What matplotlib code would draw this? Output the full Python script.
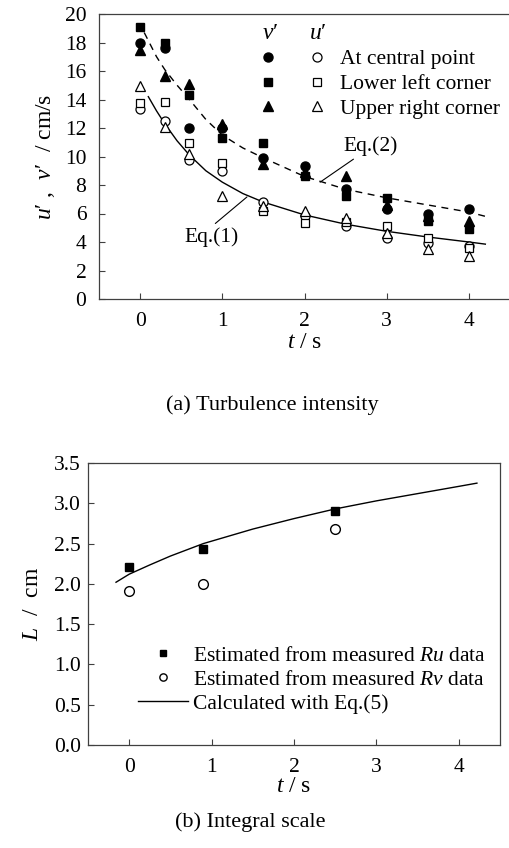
import matplotlib.pyplot as plt
from matplotlib.legend_handler import HandlerTuple

plt.rcParams['font.family'] = ['Liberation Serif', 'DejaVu Serif']
plt.rcParams['mathtext.fontset'] = 'custom'
plt.rcParams['mathtext.rm'] = 'Liberation Serif'
plt.rcParams['mathtext.it'] = 'Liberation Serif:italic'

# ---- (a) turbulence intensity data ----
t = [0, 0.3, 0.6, 1.0, 1.5, 2.0, 2.5, 3.0, 3.5, 4.0]
# v' (filled markers)
v_center = [18.0, 17.6, 12.0, 12.0, 9.9, 9.3, 7.7, 6.3, 6.0, 6.3]
v_lower = [19.1, 18.0, 14.3, 11.3, 10.95, 8.6, 7.2, 7.1, 5.5, 4.9]
v_upper = [17.5, 15.65, 15.1, 12.3, 9.5, 8.9, 8.6, 6.6, 5.8, 5.45]
# u' (open markers)
u_center = [13.3, 12.5, 9.75, 9.0, 6.8, 5.85, 5.1, 4.3, 3.95, 3.7]
u_lower = [13.75, 13.85, 10.95, 9.55, 6.2, 5.3, 5.4, 5.15, 4.3, 3.6]
u_upper = [14.95, 12.1, 10.2, 7.25, 6.5, 6.2, 5.7, 4.6, 3.5, 3.0]

# Eq.(1) and Eq.(2) curves
t_eq1 = [0.1, 0.2, 0.3, 0.45, 0.6, 0.8, 1.0, 1.25, 1.5, 2.0, 2.5, 3.0, 3.5, 4.0, 4.2]
u_eq1 = [14.2, 13.2, 12.3, 11.1, 10.1, 9.0, 8.2, 7.4, 6.8, 5.9, 5.25, 4.75, 4.35, 4.0, 3.85]
t_eq2 = [0.05, 0.2, 0.3, 0.45, 0.6, 0.8, 1.0, 1.25, 1.5, 2.0, 2.5, 3.0, 3.5, 4.0, 4.2]
v_eq2 = [18.7, 17.0, 16.1, 15.0, 14.0, 12.6, 11.5, 10.6, 9.9, 8.6, 7.7, 7.1, 6.6, 6.1, 5.8]

labels_a = ["At central point", "Lower left corner", "Upper right corner"]

# ---- (b) integral scale data ----
t_b = [0, 0.9, 2.5]
L_ru = [2.21, 2.43, 2.9]
L_rv = [1.91, 2.0, 2.68]
t_eq5 = [-0.16, 0.0, 0.25, 0.5, 0.9, 1.5, 2.0, 2.5, 3.0, 3.5, 4.0, 4.22]
L_eq5 = [2.02, 2.12, 2.235, 2.345, 2.5, 2.68, 2.81, 2.93, 3.03, 3.12, 3.21, 3.25]

fs = 15.5
W, H = 509, 848
fig = plt.figure(figsize=(W / 100, H / 100), dpi=100)
ax1 = fig.add_axes([99 / W, 1 - 299 / H, 411 / W, 285 / H])
ax2 = fig.add_axes([88 / W, 1 - 745 / H, 412 / W, 282 / H])

spine_c = '#404040'
for ax in (ax1, ax2):
    for s in ax.spines.values():
        s.set_color(spine_c)
        s.set_linewidth(0.9)
    ax.tick_params(direction='in', length=4, width=0.8, color=spine_c,
                   labelsize=fs, top=False, right=False)
    ax.set_xlim(-0.5, 4.5)
    ax.set_xticks([0, 1, 2, 3, 4])

# top panel
ms = 6.5
ax1.plot(t_eq1, u_eq1, '-', color='black', lw=1.0)
ax1.plot(t_eq2, v_eq2, color='black', lw=1.0, linestyle=(0, (5, 4)))
kw_f = dict(linestyle='none', color='black')
kw_o = dict(linestyle='none', color='black', markerfacecolor='white', markeredgewidth=0.9)
h_vc, = ax1.plot(t, v_center, 'o', ms=ms, **kw_f)
h_vl, = ax1.plot(t, v_lower, 's', ms=ms - 0.5, **kw_f)
h_vu, = ax1.plot(t, v_upper, '^', ms=ms, **kw_f)
h_uc, = ax1.plot(t, u_center, 'o', ms=ms, **kw_o)
h_ul, = ax1.plot(t, u_lower, 's', ms=ms - 0.5, **kw_o)
h_uu, = ax1.plot(t, u_upper, '^', ms=ms, **kw_o)

ax1.set_ylim(0, 20)
ax1.set_yticks(range(0, 21, 2))
ax1.tick_params(axis='y', pad=9)
ax1.tick_params(axis='x', pad=9)
ax1.set_ylabel("$u$\u2032 ,  $v$\u2032  / cm/s", fontsize=17, labelpad=6)
ax1.set_xlabel(r"$t$ / s", fontsize=17, labelpad=1)

ax1.legend(handles=[(h_vc, h_uc), (h_vl, h_ul), (h_vu, h_uu)], labels=labels_a,
           handler_map={tuple: HandlerTuple(ndivide=None, pad=1.3)},
           handlelength=3.26, handletextpad=0.55, labelspacing=0.22,
           frameon=False, loc='upper left', bbox_to_anchor=(0.386, 0.876),
           borderpad=0, borderaxespad=0, fontsize=fs)
ax1.text(0.416, 0.93, "$v$\u2032", transform=ax1.transAxes, fontsize=17,
         ha='center', va='center')
ax1.text(0.533, 0.93, "$u$\u2032", transform=ax1.transAxes, fontsize=17,
         ha='center', va='center')

ax1.annotate("Eq.(1)", xy=(1.30, 7.16), xytext=(0.875, 4.35), fontsize=fs,
             ha='center', va='center',
             arrowprops=dict(arrowstyle='-', lw=0.8, color='black',
                             shrinkA=1, shrinkB=0, relpos=(0.48, 1)))
ax1.annotate("Eq.(2)", xy=(2.19, 8.2), xytext=(2.81, 10.7), fontsize=fs,
             ha='center', va='center',
             arrowprops=dict(arrowstyle='-', lw=0.8, color='black',
                             shrinkA=0, shrinkB=0, relpos=(0.25, 0)))

# bottom panel
ax2.plot(t_b, L_ru, 's', ms=6, color='black', linestyle='none',
         label=r"Estimated from measured $Ru$ data")
ax2.plot(t_b, L_rv, 'o', ms=7, color='black', markerfacecolor='white',
         markeredgewidth=1.0, linestyle='none',
         label=r"Estimated from measured $Rv$ data")
ax2.plot(t_eq5, L_eq5, '-', color='black', lw=1.0, label="Calculated with Eq.(5)")
ax2.set_ylim(0, 3.5)
ax2.set_yticks([0, 0.5, 1.0, 1.5, 2.0, 2.5, 3.0, 3.5])
ax2.set_yticklabels([f"{v:.1f}" for v in ax2.get_yticks()])
ax2.tick_params(axis='y', pad=5)
ax2.tick_params(axis='x', pad=9)
ax2.set_ylabel(r"$L$  /  cm", fontsize=17, labelpad=8)
ax2.set_xlabel(r"$t$ / s", fontsize=17, labelpad=0)
ax2.legend(handlelength=2.33, handletextpad=0.25, labelspacing=0.18,
           frameon=False, loc='upper left', bbox_to_anchor=(0.121, 0.352),
           borderpad=0, borderaxespad=0, fontsize=fs, markerscale=0.75)

fig.text(272 / W, 1 - 405 / H, "(a) Turbulence intensity", fontsize=16,
         ha='center', va='center')
fig.text(250 / W, 1 - 822 / H, "(b) Integral scale", fontsize=16,
         ha='center', va='center')

fig.savefig("out.png", dpi=100)
